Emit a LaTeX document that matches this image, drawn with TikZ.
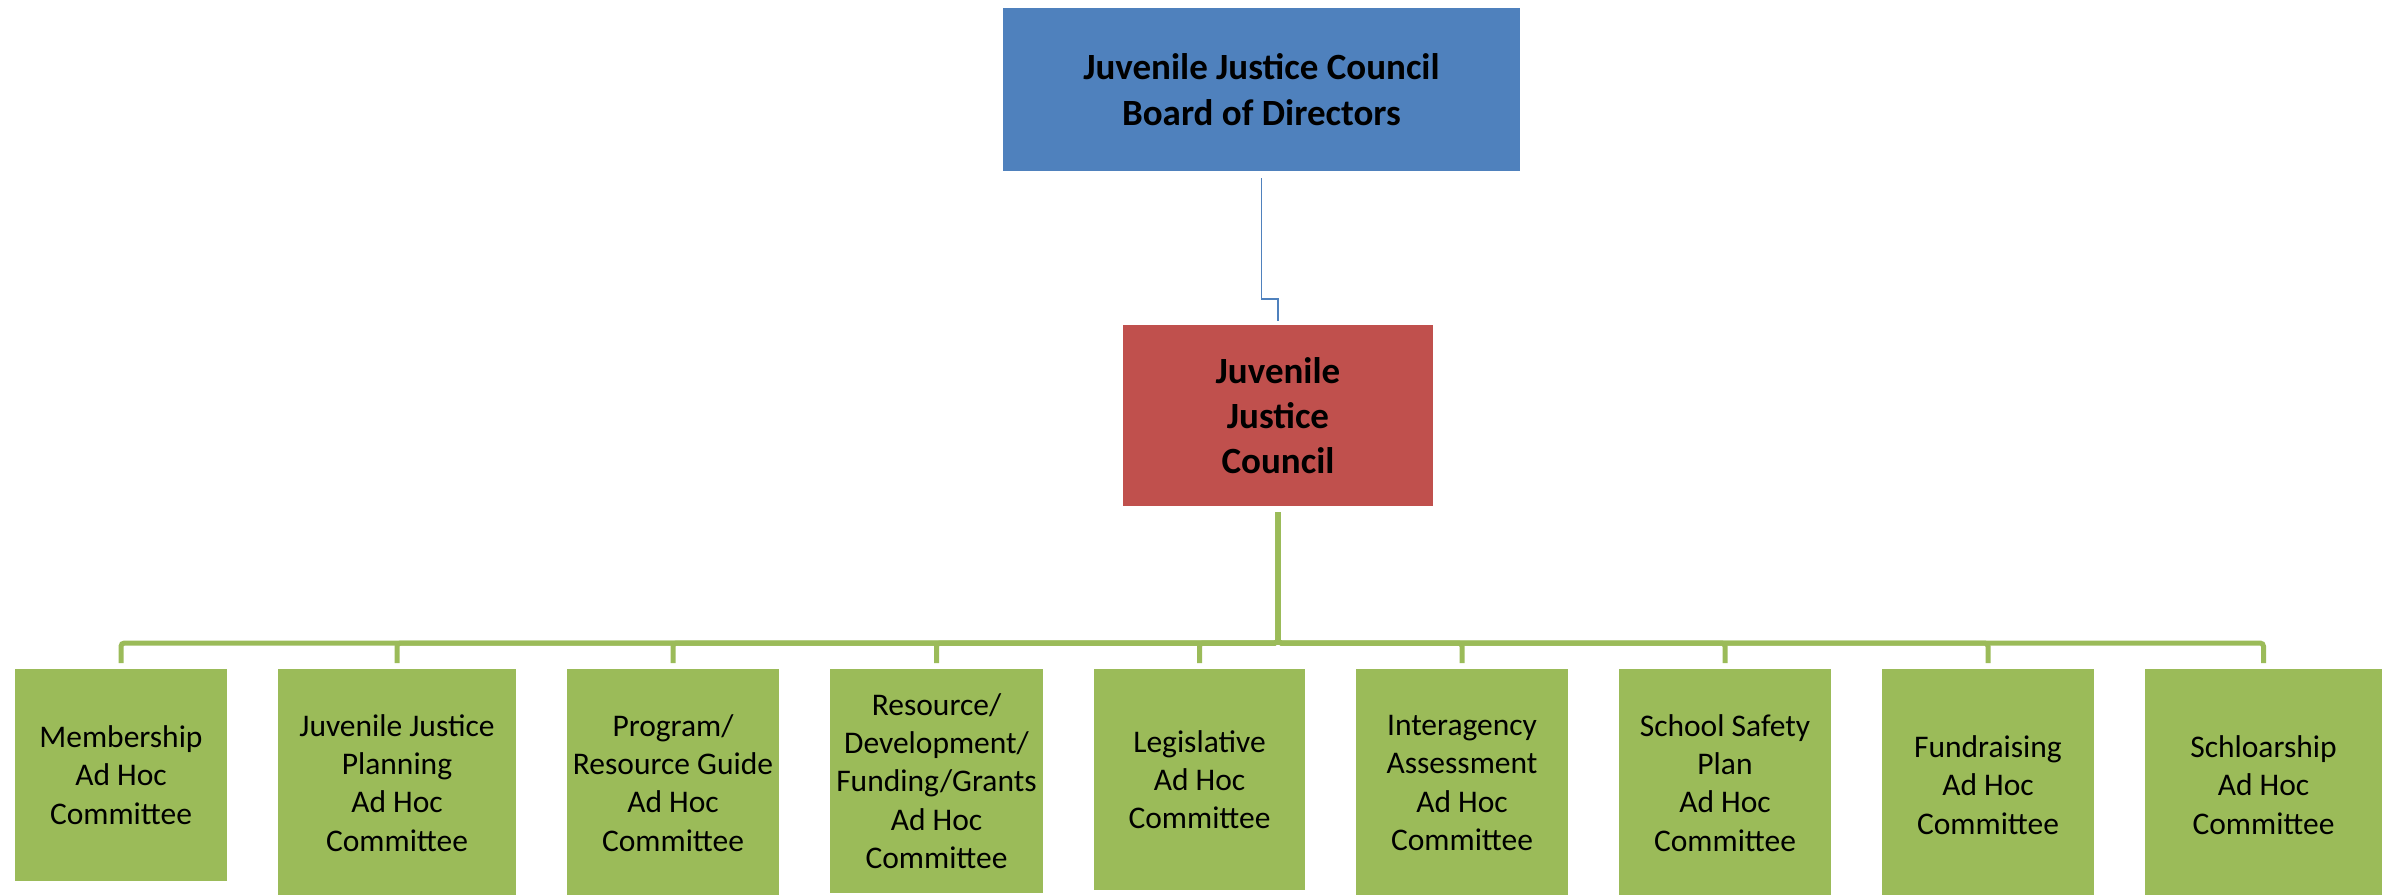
\documentclass[tikz,border=0pt]{standalone}
\usepackage{fontspec}
\setmainfont{Carlito}
\usepackage{tikz}
\usetikzlibrary{positioning}

\definecolor{boardblue}{HTML}{4F81BD}
\definecolor{councilred}{HTML}{C0504D}
\definecolor{commgreen}{HTML}{9BBB59}

\begin{document}
\begin{tikzpicture}[node distance=15.3pt,
	bigbox/.style={inner sep=0pt, outer sep=0pt, align=center, font=\fontsize{11.1}{13.6}\selectfont\bfseries},
	comm/.style={fill=commgreen, inner sep=0pt, outer sep=0pt, align=center, minimum width=63.6pt, font=\fontsize{9.45}{11.5}\selectfont},
	bline/.style={draw=boardblue, line width=0.4pt, shorten <=2.1pt, shorten >=1.2pt},
	gline/.style={draw=commgreen, line width=1.5pt, rounded corners=1pt, shorten <=1.8pt, shorten >=1.8pt}]
	\useasboundingbox (0,0) rectangle (718.5pt,-268.2pt);

	\node (board) at (378.45pt,-26.85pt) [bigbox, fill=boardblue, minimum width=155.1pt, minimum height=48.9pt] {Juvenile Justice Council\\Board of Directors};
	\node (jjc) at (383.4pt,-124.65pt) [bigbox, fill=councilred, minimum width=93pt, minimum height=54.3pt] {Juvenile\\Justice\\Council};

	% committees, tops in one row
	\node (b1) at (4.5pt,-200.7pt) [comm, anchor=north west, minimum height=63.6pt] {Membership\\Ad Hoc\\Committee};
	\node (b2) [comm, below right=0pt and 15.3pt of b1.north east, minimum width=71.4pt, minimum height=68.4pt] {Juvenile Justice\\Planning\\Ad Hoc\\Committee};
	\node (b3) [comm, below right=0pt and 15.3pt of b2.north east, minimum height=68.4pt] {Program/\\Resource Guide\\Ad Hoc\\Committee};
	\node (b4) [comm, below right=0pt and 15.3pt of b3.north east, minimum width=63.9pt, minimum height=67.2pt] {Resource/\\Development/\\Funding/Grants\\Ad Hoc\\Committee};
	\node (b5) [comm, below right=0pt and 15.3pt of b4.north east, minimum width=63.3pt, minimum height=66.3pt] {Legislative\\Ad Hoc\\Committee};
	\node (b6) [comm, below right=0pt and 15.3pt of b5.north east, minimum height=68.4pt] {Interagency\\Assessment\\Ad Hoc\\Committee};
	\node (b7) [comm, below right=0pt and 15.3pt of b6.north east, minimum height=68.4pt] {School Safety\\Plan\\Ad Hoc\\Committee};
	\node (b8) [comm, below right=0pt and 15.3pt of b7.north east, minimum height=69.6pt] {Fundraising\\Ad Hoc\\Committee};
	\node (b9) [comm, below right=0pt and 15.3pt of b8.north east, minimum width=71.1pt, minimum height=69.6pt] {Schloarship\\Ad Hoc\\Committee};

	\coordinate (bend) at (378.45pt,-89.7pt);
	\coordinate (bus) at (0pt,-192.9pt);
	\draw[bline] (board.south) -- (bend) -| (jjc.north);

	\draw[gline] (jjc.south) -- (jjc.south |- bus) -| (b1.north);
	\draw[gline] (jjc.south) -- (jjc.south |- bus) -| (b2.north);
	\draw[gline] (jjc.south) -- (jjc.south |- bus) -| (b3.north);
	\draw[gline] (jjc.south) -- (jjc.south |- bus) -| (b4.north);
	\draw[gline] (jjc.south) -- (jjc.south |- bus) -| (b5.north);
	\draw[gline] (jjc.south) -- (jjc.south |- bus) -| (b6.north);
	\draw[gline] (jjc.south) -- (jjc.south |- bus) -| (b7.north);
	\draw[gline] (jjc.south) -- (jjc.south |- bus) -| (b8.north);
	\draw[gline] (jjc.south) -- (jjc.south |- bus) -| (b9.north);
\end{tikzpicture}
\end{document}
